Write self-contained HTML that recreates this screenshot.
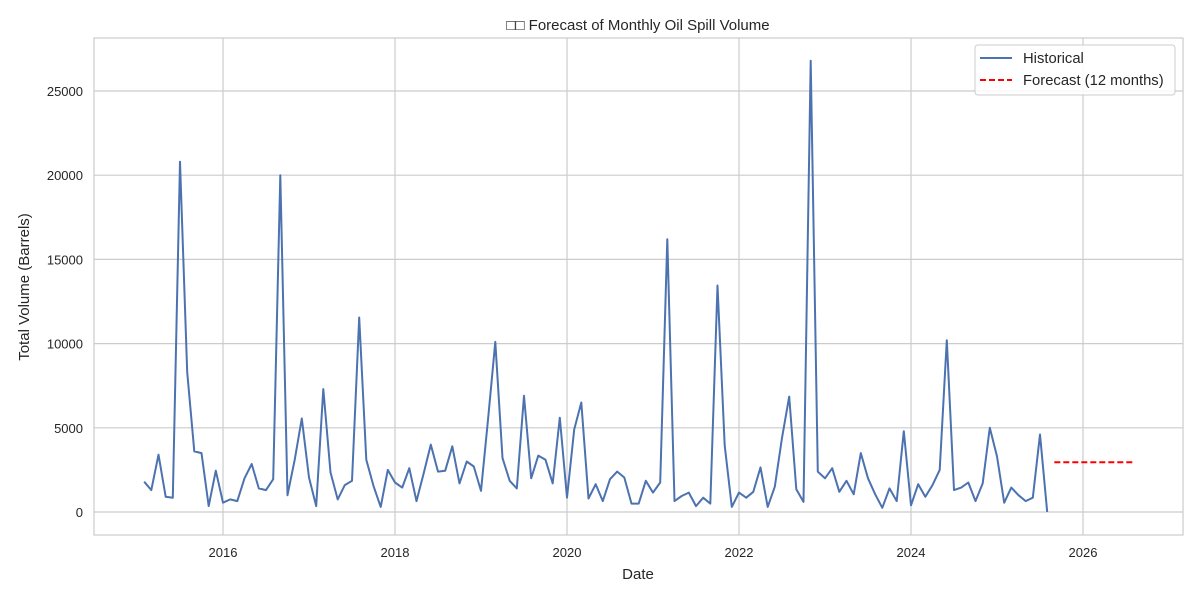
<!DOCTYPE html>
<html><head><meta charset="utf-8"><style>
body{margin:0;background:#fff;font-family:"Liberation Sans","DejaVu Sans",sans-serif}
</style></head><body>
<svg width="1200" height="600" id="c" font-family="Liberation Sans, DejaVu Sans, sans-serif">
<rect width="1200" height="600" fill="#fff"/>
<text x="638" y="30" font-size="15" text-anchor="middle" fill="#262626">□□ Forecast of Monthly Oil Spill Volume</text>
<g id="grid"></g>
<rect x="94" y="38" width="1089" height="497" fill="none" stroke="#ccc" stroke-width="1.2"/>
<g id="marks"></g>
<text x="638" y="579" font-size="15" text-anchor="middle" fill="#262626">Date</text>
<text transform="translate(29,287) rotate(-90)" font-size="15" text-anchor="middle" fill="#262626">Total Volume (Barrels)</text>
<g>
<rect x="975" y="45" width="200" height="50" rx="3" fill="#fff" fill-opacity="0.85" stroke="#ccc"/>
<line x1="980" y1="58" x2="1012" y2="58" stroke="#4c72b0" stroke-width="2"/>
<text x="1023" y="63" font-size="14.8" fill="#262626">Historical</text>
<line x1="980" y1="80" x2="1012" y2="80" stroke="red" stroke-width="2" stroke-dasharray="6,3"/>
<text x="1023" y="85" font-size="14.8" fill="#262626">Forecast (12 months)</text>
</g>
</svg>
<script>
const xTicks=[2016,2018,2020,2022,2024,2026];
const yTicks=[0,5000,10000,15000,20000,25000];
const histStart=[2015,2]; // year, month
const historical=[1800,1300,3400,900,850,20800,8300,3600,3500,350,2450,
550,750,650,2000,2850,1400,1300,1950,20000,1000,3100,5550,
2050,350,7300,2350,750,1600,1850,11550,3100,1550,300,2500,
1750,1450,2600,650,2300,4000,2400,2450,3900,1700,3000,2700,
1250,5600,10100,3200,1850,1400,6900,2000,3350,3100,1700,5600,
850,4900,6500,800,1650,650,1950,2400,2050,500,500,1850,
1150,1750,16200,650,950,1150,350,850,500,13450,3950,300,
1150,850,1200,2650,300,1500,4400,6850,1350,600,26800,2400,
2000,2600,1200,1850,1050,3500,2000,1050,250,1400,650,4800,
400,1650,900,1600,2500,10200,1300,1450,1750,650,1700,5000,
3300,550,1450,1000,650,850,4600,0];
const forecast=[2950,2950,2950,2950,2950,2950,2950,2950,2950,2950,2950,2950];
const X=t=>223+(t-2016)*86;
const Y=v=>512-v/5000*84.2;
const ns="http://www.w3.org/2000/svg";
const grid=document.getElementById('grid'),marks=document.getElementById('marks'),svg=document.getElementById('c');
function mk(tag,at,parent){const e=document.createElementNS(ns,tag);for(const k in at)e.setAttribute(k,at[k]);parent.appendChild(e);return e;}
xTicks.forEach(t=>{
 const l=mk('line',{x1:X(t),x2:X(t),y1:38,y2:535,stroke:'#ccc','stroke-width':1.2},grid);
 
 
 const tx=mk('text',{x:X(t),y:557,'font-size':13,'text-anchor':'middle',fill:'#262626'},svg);
 tx.textContent=t;
 
 
});
yTicks.forEach(v=>{
 const l=mk('line',{x1:94,x2:1183,y1:Y(v),y2:Y(v),stroke:'#ccc','stroke-width':1.2},grid);
 
 
 const tx=mk('text',{x:83,y:Y(v)+5,'font-size':13,'text-anchor':'end',fill:'#262626'},svg);
 tx.textContent=v;
 
 
});
const tOf=i=>histStart[0]+(histStart[1]-1+i)/12;
const hp=historical.map((v,i)=>X(tOf(i)).toFixed(1)+','+Y(v).toFixed(1)).join(' ');
const h=mk('polyline',{points:hp,fill:'none',stroke:'#4c72b0','stroke-width':2,'stroke-linejoin':'round'},marks);


const n=historical.length;
const fp=forecast.map((v,i)=>X(tOf(n+i)).toFixed(1)+','+Y(v).toFixed(1)).join(' ');
const f=mk('polyline',{points:fp,fill:'none',stroke:'red','stroke-width':2,'stroke-dasharray':'6,3'},marks);


</script>
</body></html>
